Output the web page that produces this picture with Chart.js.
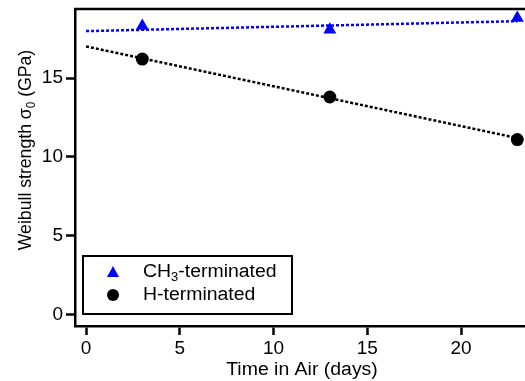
<!DOCTYPE html>
<html>
<head>
<meta charset="utf-8">
<script src="https://cdn.jsdelivr.net/npm/chart.js@4/dist/chart.umd.min.js"></script>
<style>
	html,body{margin:0;padding:0;background:#fff;}
	#wrap{width:525px;height:381px;}
</style>
</head>
<body>
<div id="wrap"><canvas id="c" width="525" height="381"></canvas></div>
<script>
// data
const days = [3, 13, 23];
const ch3Strength = [18.3, 18.05, 18.8];
const hStrength = [16.2, 13.8, 11.1];
const fitDays = [0, 23];
const ch3Fit = [17.97, 18.6];
const hFit = [17.0, 11.2];
const xTicks = [0, 5, 10, 15, 20];
const yTicks = [0, 5, 10, 15];

const FONT = '"Liberation Sans", Arial, sans-serif';
const pts = (xs, ys) => xs.map((x, i) => ({x: x, y: ys[i]}));

// text pieces drawn in a row, [text, size, dy]
function runText(ctx, parts, x, y, sx){
	let total = 0;
	parts.forEach(p => { ctx.font = p[1] + 'px ' + FONT; total += ctx.measureText(p[0]).width; });
	ctx.save();
	ctx.translate(x, y); ctx.scale(sx, 1);
	let cx = 0;
	parts.forEach(p => {
		ctx.font = p[1] + 'px ' + FONT;
		ctx.fillText(p[0], cx, p[2]);
		cx += ctx.measureText(p[0]).width;
	});
	ctx.restore();
	return total * sx;
}

// titles, legend and top frame
const extras = {
	id: 'extras',
	afterDraw(chart){
		const ctx = chart.ctx, a = chart.chartArea;
		ctx.save();
		// top frame line
		ctx.strokeStyle = '#000'; ctx.lineWidth = 2.5;
		ctx.beginPath(); ctx.moveTo(a.left - 1, a.top); ctx.lineTo(a.right, a.top); ctx.stroke();

		ctx.fillStyle = '#000';
		ctx.textAlign = 'left'; ctx.textBaseline = 'middle';
		// x title
		ctx.font = '18px ' + FONT;
		const xt = 'Time in Air (days)';
		const xw = ctx.measureText(xt).width * 1.08;
		runText(ctx, [[xt, 18, 0]], 302 - xw / 2, 370, 1.08);

		// y title with subscript
		ctx.save();
		ctx.translate(26, 150); ctx.rotate(-Math.PI / 2);
		const yParts = [['Weibull strength \u03c3', 18, 0], ['0', 12, 6], [' (GPa)', 18, 0]];
		let yw = 0;
		yParts.forEach(p => { ctx.font = p[1] + 'px ' + FONT; yw += ctx.measureText(p[0]).width; });
		runText(ctx, yParts, -yw * 0.98 / 2, 0, 0.98);
		ctx.restore();

		// legend box
		ctx.strokeStyle = '#000'; ctx.lineWidth = 2;
		ctx.strokeRect(83, 256, 209, 58);
		// triangle
		ctx.fillStyle = '#0000ff';
		ctx.beginPath(); ctx.moveTo(113, 266); ctx.lineTo(119, 277); ctx.lineTo(107, 277); ctx.closePath(); ctx.fill();
		// circle
		ctx.fillStyle = '#000';
		ctx.beginPath(); ctx.arc(113, 295, 6, 0, Math.PI * 2); ctx.fill();
		runText(ctx, [['CH', 18, 0], ['3', 12, 6], ['-terminated', 18, 0]], 143, 272, 1.08);
		runText(ctx, [['H-terminated', 18, 0]], 143, 295, 1.08);
		ctx.restore();
	}
};

new Chart(document.getElementById('c'), {
	type: 'scatter',
	data: {
		datasets: [
			{ label: 'CH3 fit', data: pts(fitDays, ch3Fit), showLine: true, borderColor: '#0000ff', borderWidth: 2.5, borderDash: [3, 2], pointRadius: 0, order: 3 },
			{ label: 'H fit', data: pts(fitDays, hFit), showLine: true, borderColor: '#000', borderWidth: 2.5, borderDash: [3, 2], pointRadius: 0, order: 4 },
			{ label: 'CH3-terminated', data: pts(days, ch3Strength), pointStyle: 'triangle', pointRadius: 7.5, backgroundColor: '#0000ff', borderColor: '#0000ff', borderWidth: 0, order: 1 },
			{ label: 'H-terminated', data: pts(days, hStrength), pointStyle: 'circle', pointRadius: 6.5, backgroundColor: '#000', borderColor: '#000', borderWidth: 0, order: 2 }
		]
	},
	options: {
		responsive: false,
		animation: false,
		layout: { autoPadding: false, padding: { top: 9, right: 0, left: 0, bottom: 0 } },
		plugins: { legend: { display: false }, tooltip: { enabled: false } },
		scales: {
			x: {
				type: 'linear', min: -0.59, max: 23.41,
				afterBuildTicks: s => { s.ticks = xTicks.map(v => ({value: v})); },
				afterFit: s => { s.height = 55; s.paddingLeft = 0; s.paddingRight = 0; },
				grid: { drawOnChartArea: false, tickLength: 9, tickColor: '#000', tickWidth: 2.5 },
				border: { display: true, color: '#000', width: 2.5 },
				ticks: { color: '#000', font: { family: FONT, size: 19 }, padding: 2, maxRotation: 0 }
			},
			y: {
				type: 'linear', min: -0.7, max: 19.37,
				afterBuildTicks: s => { s.ticks = yTicks.map(v => ({value: v})); },
				afterFit: s => { s.width = 75; s.paddingTop = 0; s.paddingBottom = 0; },
				grid: { drawOnChartArea: false, tickLength: 9, tickColor: '#000', tickWidth: 2.5 },
				border: { display: true, color: '#000', width: 2.5 },
				ticks: { color: '#000', font: { family: FONT, size: 19 }, padding: 3 }
			}
		}
	},
	plugins: [extras]
});
</script>
</body>
</html>
